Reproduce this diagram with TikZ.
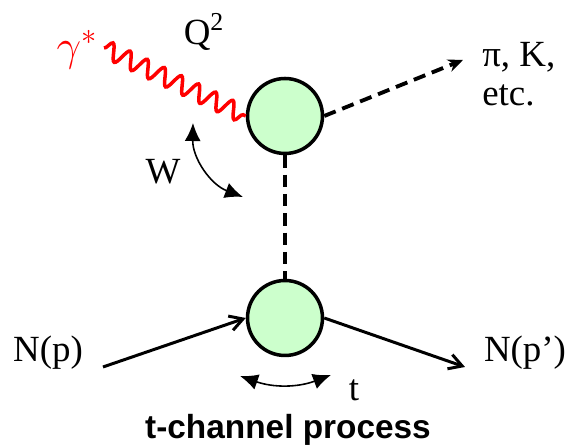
\documentclass[tikz,border=0pt]{standalone}
\usepackage{fontspec}
\setmainfont{Liberation Serif}
\setsansfont{Liberation Sans}
\usepackage{tikz}
\usetikzlibrary{arrows.meta,decorations.pathmorphing}
\definecolor{blobgreen}{RGB}{204,255,204}
\begin{document}
\begin{tikzpicture}[
        x=0.02cm, y=0.02cm,
        font=\fontsize{21}{22}\selectfont,
        blob/.style={circle, draw, line width=2pt, fill=blobgreen,
                     minimum size=1.5cm, inner sep=0pt},
        fermion/.style={line width=1.7pt, -{Straight Barb[length=2.6mm, width=3mm]}},
        meson/.style={line width=2.2pt, dash pattern=on 7pt off 4pt},
        swing/.style={line width=0.9pt,
                      {Latex[length=3.6mm, width=3.2mm]}-{Latex[length=3.6mm, width=3.2mm]}},
        photon/.style={red, line width=2pt, decorate,
                       decoration={snake, amplitude=0.17cm, segment length=0.38cm}},
    ]
        \useasboundingbox (0,0) rectangle (566,448);
        % vertices
        \node[blob] (upper) at (285,332) {};
        \node[blob] (lower) at (285,130) {};
        \coordinate (gin) at (104,400);
        \coordinate (mout) at (463,388);
        \coordinate (nin) at (103,81);
        \coordinate (nout) at (465,81);
        % lines
        \draw[photon] (gin) -- (upper.west);
        \draw[meson, -{Stealth[length=3mm, width=2.6mm]}] (upper.east) -- (mout);
        \draw[meson] (upper.south) -- (lower.north);
        \draw[fermion] (nin) -- (lower.west);
        \draw[fermion] (lower.east) -- (nout);
        % kinematic arcs
        \coordinate (wa) at (193,325); \coordinate (wb) at (243,251);
        \draw[swing] (wa) to[bend right=35] (wb);
        \coordinate (ta) at (240,72); \coordinate (tb) at (331,73);
        \draw[swing] (ta) to[bend right=20] (tb);
        % labels
        \node[red, font=\fontsize{25}{26}\selectfont] (gam) at (77,398) {$\gamma^*$};
        \node (qsq) at (204,416) {Q\textsuperscript{2}};
        \node (wlab) at (163,276) {W};
        \node (tlab) at (354,58) {t};
        \node (np) at (48,95) {N(p)};
        \node (npp) at (525,95) {N(p’)};
        \node[anchor=west, align=left, inner sep=0pt] (prod) at (482,374) {π, K,\\etc.};
        \node[font=\sffamily\bfseries\fontsize{19}{22}\selectfont] (title) at (288,18)
            {t-channel process};
    \end{tikzpicture}
\end{document}
